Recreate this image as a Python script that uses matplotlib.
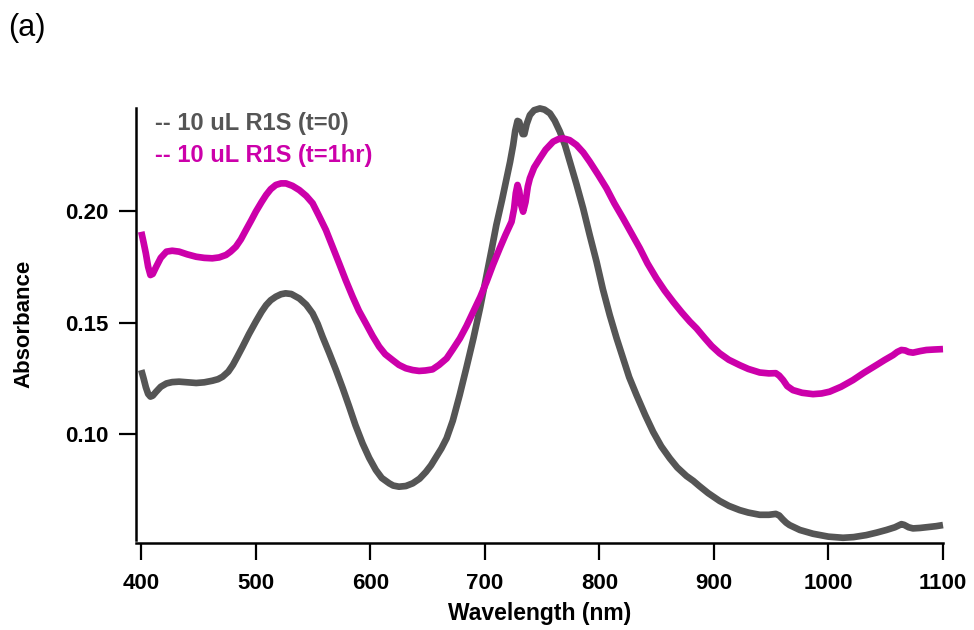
import matplotlib
matplotlib.use("Agg")
import matplotlib.pyplot as plt

plt.rcParams['font.family'] = ['Liberation Sans', 'DejaVu Sans']

# Absorbance spectrum right after addition (wavelength in nm)
wl_t0 = [400, 402, 404, 406, 408, 410, 413, 417, 422, 427, 433, 440, 448, 455, 462,
         467, 471, 476, 480, 484, 488.5, 494, 500, 505, 509, 513, 517.5, 522, 526,
         531, 538, 544, 549.6, 554, 558.3, 564, 570, 576, 581.6, 587, 593.2, 599,
         604.8, 610, 616.5, 620, 625, 631, 637, 643, 648.5, 653, 657, 662, 666.6,
         672, 678, 684, 690, 696, 701.5, 706, 710, 715, 719, 722, 724.7, 726.5,
         728.5, 730, 731.5, 733, 734.5, 736.5, 739.3, 743, 748, 752, 756.8, 761,
         765.5, 770, 774.2, 780, 785.8, 791.5, 797.5, 803, 809, 815, 820.7, 826,
         832.4, 840, 846.9, 854, 861.5, 868, 876, 882, 887, 895, 905, 913, 922.5,
         930, 940, 948, 954, 957, 960, 963, 966, 975, 986.5, 1000, 1012.7, 1022,
         1033, 1042, 1050.6, 1058, 1063.7, 1066, 1070, 1073.8, 1080, 1087, 1094,
         1100]
abs_t0 = [0.1287, 0.1250, 0.1210, 0.1180, 0.1168, 0.1172, 0.1190, 0.1212, 0.1227,
          0.1233, 0.1235, 0.1232, 0.1229, 0.1232, 0.1239, 0.1246, 0.1257, 0.1280,
          0.1310, 0.1348, 0.1392, 0.1448, 0.1504, 0.1548, 0.1578, 0.1600, 0.1616,
          0.1627, 0.1631, 0.1628, 0.1608, 0.1580, 0.1541, 0.1494, 0.1436, 0.1365,
          0.1287, 0.1204, 0.1122, 0.1040, 0.0958, 0.0893, 0.0839, 0.0803, 0.0779,
          0.0769, 0.0764, 0.0767, 0.0779, 0.0800, 0.0830, 0.0860, 0.0893, 0.0935,
          0.0981, 0.1060, 0.1175, 0.1300, 0.1429, 0.1570, 0.1713, 0.1830, 0.1937,
          0.2050, 0.2147, 0.2220, 0.2296, 0.2360, 0.2404, 0.2400, 0.2370, 0.2345,
          0.2345, 0.2390, 0.2430, 0.2452, 0.2460, 0.2455, 0.2438, 0.2405, 0.2356,
          0.2295, 0.2221, 0.2120, 0.2012, 0.1893, 0.1773, 0.1650, 0.1534, 0.1430,
          0.1339, 0.1255, 0.1175, 0.1085, 0.1010, 0.0945, 0.0891, 0.0850, 0.0812,
          0.0790, 0.0768, 0.0735, 0.0700, 0.0678, 0.0659, 0.0648, 0.0638, 0.0638,
          0.0642, 0.0635, 0.0618, 0.0603, 0.0592, 0.0570, 0.0553, 0.0540, 0.0535,
          0.0538, 0.0547, 0.0558, 0.0570, 0.0582, 0.0596, 0.0593, 0.0582, 0.0577,
          0.0579, 0.0583, 0.0587, 0.0592]

# Absorbance spectrum after one hour
wl_t1 = [400, 402, 404, 406, 408, 410, 413, 417, 422, 427, 433, 440, 448, 455, 462,
         468, 474, 478, 482.6, 487, 491.4, 496, 500, 505, 509, 513, 517.5, 522,
         526.3, 532, 538, 544, 549.6, 555, 561.2, 567, 572.8, 578.5, 584.5, 590,
         596.1, 602, 607.7, 613, 619.4, 625, 631, 637, 642.6, 648, 654.3, 660,
         666.6, 672, 678.2, 684, 689.8, 696, 701.5, 707, 713, 718, 723.3, 725.5,
         727, 728.5, 730, 731.5, 733.4, 735.5, 737.5, 739.3, 743, 748, 753, 759.6,
         764, 768.3, 774, 780, 786, 791.6, 799, 806.2, 813, 820.7, 828, 835.3, 842,
         849.8, 857, 864.4, 872, 879, 884.8, 892, 898, 905, 913, 922.5, 930, 940,
         948, 954, 957, 960.4, 964, 969, 977, 986.5, 994, 1001, 1011, 1021.4, 1031,
         1041.8, 1049, 1056.4, 1060, 1063.7, 1067, 1070, 1073.8, 1080, 1085.5, 1092,
         1100]
abs_t1 = [0.1907, 0.1860, 0.1810, 0.1750, 0.1713, 0.1718, 0.1750, 0.1790, 0.1818,
          0.1822, 0.1818, 0.1806, 0.1795, 0.1790, 0.1788, 0.1792, 0.1803, 0.1818,
          0.1840, 0.1873, 0.1915, 0.1958, 0.1997, 0.2040, 0.2072, 0.2098, 0.2117,
          0.2124, 0.2124, 0.2113, 0.2094, 0.2068, 0.2035, 0.1980, 0.1915, 0.1840,
          0.1765, 0.1690, 0.1616, 0.1553, 0.1496, 0.1440, 0.1392, 0.1358, 0.1332,
          0.1310, 0.1295, 0.1287, 0.1283, 0.1285, 0.1290, 0.1310, 0.1339, 0.1380,
          0.1429, 0.1485, 0.1548, 0.1615, 0.1683, 0.1758, 0.1833, 0.1893, 0.1952,
          0.2010, 0.2080, 0.2117, 0.2090, 0.2030, 0.1997, 0.2040, 0.2110, 0.2147,
          0.2195, 0.2236, 0.2275, 0.2311, 0.2322, 0.2326, 0.2318, 0.2296, 0.2262,
          0.2221, 0.2162, 0.2102, 0.2035, 0.1967, 0.1900, 0.1833, 0.1765, 0.1698,
          0.1643, 0.1593, 0.1545, 0.1504, 0.1474, 0.1430, 0.1395, 0.1362, 0.1333,
          0.1309, 0.1292, 0.1276, 0.1272, 0.1273, 0.1262, 0.1242, 0.1215, 0.1197,
          0.1185, 0.1179, 0.1182, 0.1190, 0.1212, 0.1242, 0.1275, 0.1309, 0.1332,
          0.1354, 0.1368, 0.1377, 0.1375, 0.1368, 0.1365, 0.1372, 0.1377, 0.1379,
          0.1381]

series_labels = ["-- 10 uL R1S (t=0)", "-- 10 uL R1S (t=1hr)"]
x_ticks = [400, 500, 600, 700, 800, 900, 1000, 1100]
y_ticks = [0.10, 0.15, 0.20]

GRAY = "#555555"
MAGENTA = "#CC00AA"

W, H = 974, 630
fig = plt.figure(figsize=(W / 100, H / 100), dpi=100)
ax = fig.add_axes([136 / W, 1 - 540 / H, (943 - 136) / W, (540 - 108) / H])

ax.plot(wl_t0, abs_t0, color=GRAY, lw=4.8, solid_joinstyle='round',
        solid_capstyle='butt', clip_on=False)
ax.plot(wl_t1, abs_t1, color=MAGENTA, lw=4.8, solid_joinstyle='round',
        solid_capstyle='butt', clip_on=False)

ax.set_xlim(395.4, 1100)
ax.set_ylim(0.0525, 0.2462)

for s in ('top', 'right'):
    ax.spines[s].set_visible(False)
for s in ('left', 'bottom'):
    ax.spines[s].set_linewidth(1.8)
ax.spines['bottom'].set_position(('outward', 2.5))

ax.set_xticks(x_ticks)
ax.set_xticklabels([str(v) for v in x_ticks])
ax.set_yticks(y_ticks)
ax.set_yticklabels([f"{v:.2f}" for v in y_ticks])
ax.tick_params(axis='both', direction='out', length=12, width=1.6,
               labelsize=16, pad=8)
ax.tick_params(axis='x', pad=9)
for lab in ax.get_xticklabels() + ax.get_yticklabels():
    lab.set_fontweight('bold')

ax.set_xlabel("Wavelength (nm)", fontsize=16.5, fontweight='bold', labelpad=6)
ax.set_ylabel("Absorbance", fontsize=16, fontweight='bold', labelpad=22)

fig.text(155 / W, 1 - 130 / H, series_labels[0], color=GRAY, fontsize=17,
         fontweight='bold', va='baseline', ha='left')
fig.text(155 / W, 1 - 161.7 / H, series_labels[1], color=MAGENTA, fontsize=17,
         fontweight='bold', va='baseline', ha='left')

fig.text(8 / W, 1 - 36 / H, "(a)", fontsize=22, va='baseline', ha='left')

fig.savefig("out.png", dpi=100)
